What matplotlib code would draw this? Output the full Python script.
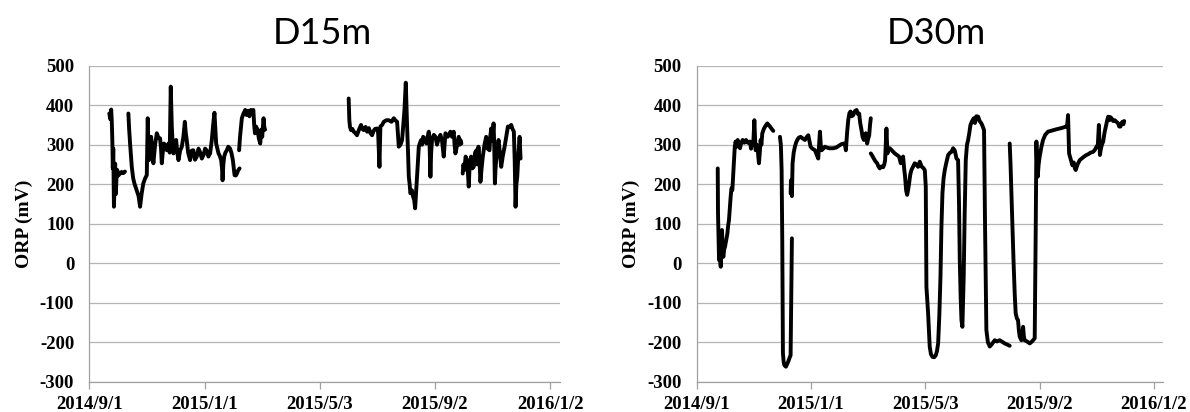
import numpy as np
import matplotlib
matplotlib.use('Agg')
import matplotlib.pyplot as plt
import matplotlib.dates as mdates
from datetime import datetime

nan = np.nan

# Logger records: days since 2014/9/1 and ORP (mV); nan splits the logging gaps
d15_days = [
    21.0, 22.0, 23.0, 23.6, 24.2, 24.7, 25.2, 25.9, 26.6, 27.2, 27.9, 28.6, 29.4, 30.5, 32.0, 34.0, 35.8, 37.6, nan,
    41.2, 42.0, 43.0, 44.8, 46.3, 47.6, 50.0, 52.0, 53.6, 55.2, 57.0, 59.0, 60.7, 61.7, 62.4, 63.0, 64.2, 65.3,
    66.4, 67.7, 69.5, 71.3, 73.0, 74.8, 75.8, 76.6, 78.0, 79.0, 81.9, 83.6, 85.0, 86.1, 87.2, 88.2, 89.0, 90.5,
    91.8, 93.0, 94.3, 96.0, 97.8, 99.5, 101.0, 102.0, 103.0, 104.5, 106.6, 108.3, 110.0, 111.8, 113.7, 115.5,
    117.0, 119.0, 120.8, 122.5, 124.0, 126.0, 127.8, 129.6, 131.0, 132.4, 133.3, 134.2, 135.5, 136.7, 138.0,
    139.5, 140.4, 141.0, 141.8, 142.7, 144.0, 145.5, 147.0, 149.0, 150.5, 151.9, 153.7, 155.0, 156.2, 157.5, 159.0, nan,
    158.5, 159.5, 160.5, 161.4, 163.0, 165.0, 166.5, 168.0, 169.5, 171.0, 172.5, 173.6, 174.5, 175.3, 176.5,
    178.0, 179.5, 180.9, 182.0, 183.0, 184.4, 185.2, 186.0, nan,
    274.6, 275.0, 275.3, 276.0, 277.0, 278.5, 279.9, 281.5, 283.4, 285.5, 287.7, 289.0, 290.6, 292.5, 294.1,
    296.0, 297.5, 299.4, 301.0, 302.5, 304.7, 305.8, 307.2, 308.2, 310.0, 311.8, 314.5, 317.1, 320.0, 322.4,
    324.0, 325.9, 327.0, 327.7, 329.5, 331.2, 332.5, 333.7, 335.1, 335.8, 336.5, 337.5, 338.3, 339.2, 340.0,
    341.5, 342.9, 344.0, 345.0, 345.8, 346.5, 347.8, 348.9, 350.2, 351.4, 352.4, 353.5, 355.2, 357.0, 358.2,
    359.5, 360.3, 361.2, 362.0, 363.0, 364.8, 366.5, 368.2, 370.0, 371.8, 373.5, 375.3, 376.2, 377.1, 379.5,
    382.4, 384.0, 385.9, 386.8, 387.7, 389.5, 391.2, 392.2, 393.0, 394.0, nan,
    395.4, 396.2, 397.1, 398.5, 400.0, 400.9, 401.8, 402.8, 404.3, 405.6, 407.1, 408.5, 410.0, 411.0, 412.1,
    413.2, 414.2, 415.4, 416.7, 418.5, 420.3, 421.8, 423.8, 424.6, 425.6, 426.8, 428.1, 428.8, 429.5, 430.2,
    430.9, 432.0, 433.4, 434.8, 436.2, 437.8, 439.8, 441.5, 443.3, 445.0, 446.8, 448.2, 449.6, 450.5, 451.4,
    452.3, 453.2, 454.5, 455.7, 456.7,
]
d15_orp = [
    379, 365, 389, 360, 312, 240, 290, 143, 205, 252, 175, 215, 236, 222, 226, 231, 228, 232, nan,
    379, 340, 303, 244, 215, 202, 185, 170, 143, 175, 202, 215, 223, 367, 300, 261, 300, 320,
    290, 253, 300, 329, 318, 316, 290, 253, 290, 303, 286, 303, 280, 447, 346, 300, 278, 300,
    312, 280, 261, 285, 295, 320, 358, 330, 312, 280, 261, 285, 286, 262, 270, 290,
    282, 265, 274, 290, 286, 270, 278, 312, 350, 381, 340, 303, 290, 278, 272,
    261, 240, 210, 250, 270, 280, 286, 295, 290, 278, 261, 223, 222, 227, 235, 240, nan,
    286, 320, 345, 367, 378, 388, 375, 386, 372, 388, 380, 388, 350, 329, 346,
    338, 315, 303, 338, 320, 367, 345, 338, nan,
    417, 380, 362, 345, 337, 340, 333, 330, 324, 338, 350, 340, 337, 345, 333,
    342, 330, 324, 335, 340, 341, 330, 244, 346, 350, 358, 362, 362, 358, 367,
    362, 358, 320, 295, 300, 312, 350, 388, 457, 400, 346, 280, 219, 200, 177,
    185, 168, 160, 139, 170, 194, 250, 295, 305, 312, 300, 320, 315, 303, 320,
    333, 300, 219, 280, 316, 325, 320, 300, 316, 325, 310, 270, 300, 329, 320,
    333, 320, 333, 300, 278, 300, 320, 300, 312, 303, nan,
    227, 250, 236, 270, 261, 230, 194, 250, 270, 240, 244, 280, 286, 250, 295,
    260, 206, 240, 270, 300, 320, 290, 286, 320, 341, 310, 354, 300, 202, 240,
    261, 290, 312, 280, 244, 270, 295, 320, 346, 345, 350, 340, 333, 260, 143,
    200, 219, 280, 320, 265,
]

d30_days = [
    22.4, 22.7, 23.8, 24.6, 25.6, 26.3, 27.0, 27.6, 28.4, 29.3, 30.2, 31.5, 32.7, 33.5, 34.4, 35.3, 36.2, 37.1,
    38.0, 39.0, 39.8, 40.6, 41.5, 42.5, 43.7, 45.0, 46.2, 47.5, 49.0, 50.8, 52.6, 54.5, 56.8, 58.0, 59.0, 60.3,
    61.5, 62.2, 62.9, 64.0, 65.0, 65.7, 66.4, 67.3, 68.2, 69.0, 70.0, 71.8, 73.5, 75.3, 76.8, 78.2, 80.0, 81.7, nan,
    88.8, 89.8, 90.6, 91.3, 92.0, 92.8, 93.5, 95.2, 96.5, 97.7, 99.0, 100.2, 100.9, 101.6, nan,
    100.2, 100.6, 100.9, 101.6, 102.3, 103.5, 104.8, 106.0, 107.3, 109.0, 110.9, 113.0, 115.5, 117.5, 119.1,
    120.3, 121.5, 123.5, 126.2, 128.0, 129.7, 130.6, 131.5, 132.4, 133.3, 135.0, 136.8, 138.6, 141.5, 145.7,
    149.0, 152.8, 155.0, 157.1, 158.2, 159.2, 160.5, 161.7, 163.0, 164.2, 165.5, 167.1, 168.8, 170.6, 172.0,
    173.4, 174.5, 175.9, 177.0, 178.4, 179.4, 180.5, 181.9, 183.0, 184.1, 185.0, 185.8, nan,
    185.8, 187.4, 189.0, 190.8, 192.6, 194.0, 195.4, 197.0, 199.0, 200.2, 201.1, 202.5, 203.6, 204.8, 206.1,
    208.5, 211.4, 213.8, 216.0, 217.8, 219.0, 220.3, 221.4, 222.4, 223.5, 224.6, 225.6, 226.7, 228.0, 229.2,
    231.0, 232.7, 234.5, 236.3, 238.1, 240.0, 242.3, 243.5, 244.5, 245.2, 246.0, 247.0, 248.0, 248.7, 250.0,
    251.6, 253.5, 255.2, 256.5, 257.7, 259.0, 260.2, 261.2, 262.3, 263.5, 264.8, 266.5, 268.4, 270.5, 272.0,
    273.7, 275.5, 277.3, 279.0, 280.0, 280.8, 281.8, 282.6, 283.6, 284.3, 285.0, 286.0, 287.2, 288.5, 289.7,
    291.0, 292.2, 294.0, 295.7, 297.0, 298.5, 300.4, 302.0, 303.9, 305.5, 306.7, 307.8, 309.2, 310.8, 312.8,
    315.0, 318.1, 320.5, 323.4, 326.0, 328.8, 331.5, 334.1, nan,
    334.1, 335.0, 335.9, 337.2, 338.4, 339.5, 340.5, 341.8, 343.0, 343.9, 344.8, 346.6, 347.5, 348.4, 349.2,
    350.1, 352.5, 355.5, 358.0, 360.8, 361.9, 362.6, 363.3, 364.0, 365.0, 366.1, 368.0, 369.7, 372.0, 375.0,
    379.5, 383.9, 389.0, 394.6, 395.5, 396.4, 397.0, 397.5, 399.0, 401.0, 402.5, 403.7, 404.6, 406.5, 408.9,
    411.0, 413.5, 416.1, 418.0, 420.5, 423.2, 425.0, 426.8, 428.2, 429.3, 430.4, 431.5, 432.5, 433.9, 435.3,
    436.7, 438.0, 439.2, 440.5, 441.5, 442.8, 444.5, 446.3, 448.0, 449.9, 451.0, 452.4, 453.5, 454.5, 455.5,
    456.3,
]
d30_orp = [
    240, 126, 8, 20, -9, 40, 84, 30, 16, 35, 42, 60, 75, 95, 109, 140, 168, 190,
    185, 230, 261, 295, 308, 295, 312, 300, 291, 305, 312, 305, 312, 305, 308, 290, 303, 300,
    362, 320, 286, 300, 295, 270, 253, 280, 312, 300, 329, 341, 348, 354, 350, 346, 340, 335, nan,
    320, 300, 236, 59, -228, -250, -258, -262, -255, -249, -240, -233, -76, 63, nan,
    177, 210, 202, 170, 253, 280, 295, 305, 312, 318, 320, 316, 312, 320, 324,
    310, 295, 290, 286, 275, 265, 300, 333, 300, 286, 290, 295, 293, 291, 291,
    293, 299, 302, 303, 300, 286, 330, 362, 380, 384, 372, 375, 385, 388, 378,
    379, 355, 337, 320, 312, 325, 329, 303, 315, 324, 350, 367, nan,
    278, 272, 265, 258, 253, 245, 240, 245, 243, 250, 261, 341, 278, 290, 291,
    285, 278, 274, 270, 253, 265, 270, 240, 219, 185, 173, 185, 202, 225, 236,
    245, 253, 250, 244, 257, 245, 240, 235, 194, -60, -90, -127, -180, -211, -230,
    -237, -238, -233, -222, -203, -130, -34, 90, 177, 215, 236, 255, 274, 280, 282,
    291, 285, 265, 261, 150, 8, -90, -144, -161, -100, -34, 120, 261, 300, 312,
    330, 350, 360, 367, 355, 372, 371, 360, 354, 345, 337, 92, -169, -200, -211,
    -205, -195, -198, -195, -199, -203, -206, -209, nan,
    303, 250, 177, 80, -9, -80, -127, -140, -144, -170, -186, -195, -180, -161, -185,
    -195, -198, -203, -198, -190, 92, 308, 250, 219, 250, 270, 295, 312, 325, 333,
    336, 339, 342, 346, 350, 375, 320, 278, 265, 248, 255, 240, 236, 250, 261,
    265, 270, 274, 276, 280, 282, 287, 295, 300, 350, 274, 290, 300, 308, 330,
    346, 360, 371, 362, 370, 367, 360, 362, 358, 354, 346, 346, 355, 358, 352,
    360,
]

titles = ['D15m', 'D30m']
x_ticks = ['2014/9/1', '2015/1/1', '2015/5/3', '2015/9/2', '2016/1/2']
y_ticks = [-300, -200, -100, 0, 100, 200, 300, 400, 500]
y_label = 'ORP (mV)'

start = mdates.date2num(datetime(2014, 9, 1))
tick_pos = [mdates.date2num(datetime.strptime(t, '%Y/%m/%d')) for t in x_ticks]

GRID = '#b5b5b5'
AXIS = '#a0a0a0'
tick_font = dict(family='Liberation Serif', weight='bold', size=13.5)

fig = plt.figure(figsize=(11.9, 4.12), dpi=100)

panels = [
    (d15_days, d15_orp, [0.0752, 0.0735, 0.395, 0.767], 322),
    (d30_days, d30_orp, [0.5855, 0.0735, 0.392, 0.767], 936),
]

for (days, orp, rect, title_x), title in zip(panels, titles):
    ax = fig.add_axes(rect)
    x = start + np.array(days, dtype=float)
    ax.plot(x, np.array(orp, dtype=float), color='black', lw=2.8,
            solid_joinstyle='round', solid_capstyle='round')

    ax.set_xlim(start, start + 498)
    ax.set_ylim(-300, 500)
    ax.set_xticks(tick_pos)
    ax.set_xticklabels(x_ticks, fontdict=tick_font)
    ax.set_yticks(y_ticks)
    ax.set_yticklabels([str(v) for v in y_ticks], fontdict=tick_font)

    ax.yaxis.grid(True, color=GRID, lw=0.9)
    ax.set_axisbelow(True)
    for side in ('top', 'right'):
        ax.spines[side].set_visible(False)
    for side in ('left', 'bottom'):
        ax.spines[side].set_color(AXIS)
        ax.spines[side].set_linewidth(0.9)
    ax.tick_params(axis='x', direction='out', length=5, width=0.9, color=AXIS, pad=5)
    ax.tick_params(axis='y', length=0, pad=11)

    ax.set_ylabel(y_label, family='Liberation Serif', weight='bold', size=14, labelpad=5)

    fig.text(title_x / 1190, 1 - 44 / 412, title, family='Lato', size=26,
             ha='center', va='baseline')

fig.savefig('out.png', dpi=100, facecolor='white')
